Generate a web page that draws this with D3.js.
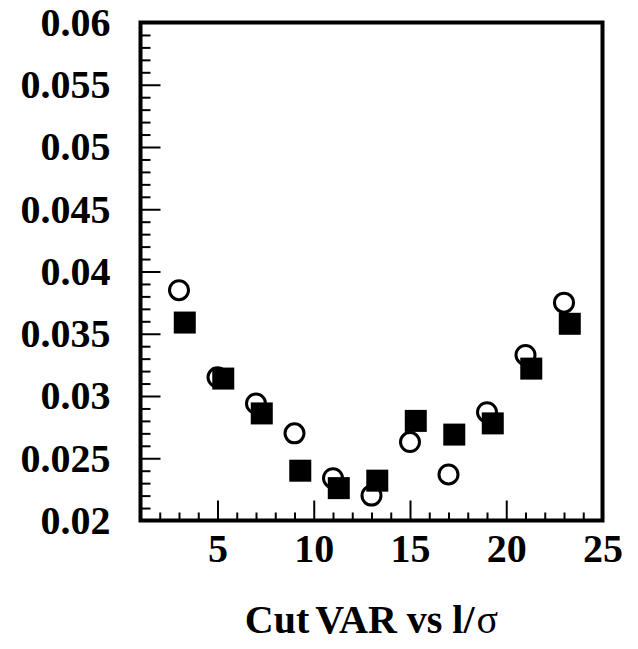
<!DOCTYPE html>
<html>
<head>
<meta charset="utf-8">
<script src="https://cdn.jsdelivr.net/npm/d3@7"></script>
<style>
  html, body { margin: 0; padding: 0; background: #fff; }
  svg { display: block; }
  text { font-family: "Liberation Serif", "Times New Roman", serif; font-weight: bold; fill: #000; }
</style>
</head>
<body>
<svg id="chart" width="638" height="649"></svg>
<script>
// Cut value versus l/sigma, two selections
const xOpen   = [3, 5, 7, 9, 11, 13, 15, 17, 19, 21, 23];
const yOpen   = [0.0385, 0.0315, 0.0294, 0.0270, 0.0234, 0.0220, 0.0263, 0.0237, 0.0287, 0.0333, 0.0375];
const xFilled = [3.3, 5.3, 7.3, 9.3, 11.3, 13.3, 15.3, 17.3, 19.3, 21.3, 23.3];
const yFilled = [0.0359, 0.0314, 0.0286, 0.0240, 0.0226, 0.0232, 0.0280, 0.0269, 0.0278, 0.0322, 0.0358];

const xTickValues = [5, 10, 15, 20, 25];
const xTickLabels = ["5", "10", "15", "20", "25"];
const yTickValues = [0.02, 0.025, 0.03, 0.035, 0.04, 0.045, 0.05, 0.055, 0.06];
const yTickLabels = ["0.02", "0.025", "0.03", "0.035", "0.04", "0.045", "0.05", "0.055", "0.06"];
const xTitleParts = ["Cut", "VAR vs l/"];
const xTitleSymbol = "σ";

const plotLeft = 140.5, plotRight = 602.5, plotTop = 22.5, plotBottom = 520.5;

const svg = d3.select("#chart");
const x = d3.scaleLinear().domain([1, 25]).range([plotLeft, plotRight]);
const y = d3.scaleLinear().domain([0.02, 0.06]).range([plotBottom, plotTop]);

// minor ticks
const xMinor = d3.range(2, 25).filter(v => !xTickValues.includes(v));
const yMinor = d3.range(21, 60).map(v => v / 1000).filter(v => Math.round(v * 1000) % 5 !== 0);

const tickStyle = g => {
  g.select(".domain").remove();
  g.selectAll(".tick line").attr("stroke", "#000").attr("stroke-width", 2);
};

svg.append("g")
  .attr("transform", `translate(0,${plotBottom})`)
  .call(d3.axisBottom(x).tickValues(xMinor).tickSize(-8).tickFormat(""))
  .call(tickStyle);

svg.append("g")
  .attr("transform", `translate(${plotLeft},0)`)
  .call(d3.axisLeft(y).tickValues(yMinor).tickSize(-10).tickFormat(""))
  .call(tickStyle);

const xAxis = svg.append("g")
  .attr("transform", `translate(0,${plotBottom})`)
  .call(d3.axisBottom(x).tickValues(xTickValues).tickSize(-20).tickPadding(13)
    .tickFormat((d, i) => xTickLabels[i]))
  .call(tickStyle);
xAxis.selectAll(".tick text").style("font-size", "40px").style("font-family", "'Liberation Serif', serif").style("font-weight", "bold");

const yAxis = svg.append("g")
  .attr("transform", `translate(${plotLeft},0)`)
  .call(d3.axisLeft(y).tickValues(yTickValues).tickSize(-20).tickPadding(30)
    .tickFormat((d, i) => yTickLabels[i]))
  .call(tickStyle);
yAxis.selectAll(".tick text").style("font-size", "40px").style("font-family", "'Liberation Serif', serif").style("font-weight", "bold");

// frame
svg.append("rect")
  .attr("x", x(1)).attr("y", y(0.06))
  .attr("width", x(25) - x(1)).attr("height", y(0.02) - y(0.06))
  .attr("fill", "none").attr("stroke", "#000").attr("stroke-width", 4);

// open circles
svg.append("g").selectAll("circle")
  .data(xOpen.map((v, i) => [v, yOpen[i]]))
  .join("circle")
  .attr("cx", d => x(d[0])).attr("cy", d => y(d[1]))
  .attr("r", 9.5)
  .attr("fill", "#fff").attr("stroke", "#000").attr("stroke-width", 3);

// filled squares
const side = 22;
svg.append("g").selectAll("rect")
  .data(xFilled.map((v, i) => [v, yFilled[i]]))
  .join("rect")
  .attr("x", d => x(d[0]) - side / 2).attr("y", d => y(d[1]) - side / 2)
  .attr("width", side).attr("height", side)
  .attr("fill", "#000");

// axis title
const title = svg.append("text")
  .attr("x", (plotLeft + plotRight) / 2).attr("y", 633)
  .attr("text-anchor", "middle")
  .style("font-size", "40px");
title.append("tspan").text(xTitleParts[0]);
title.append("tspan").attr("dx", 6).text(xTitleParts[1]);
title.append("tspan").attr("dx", 2).style("font-weight", "normal").text(xTitleSymbol);
</script>
</body>
</html>
